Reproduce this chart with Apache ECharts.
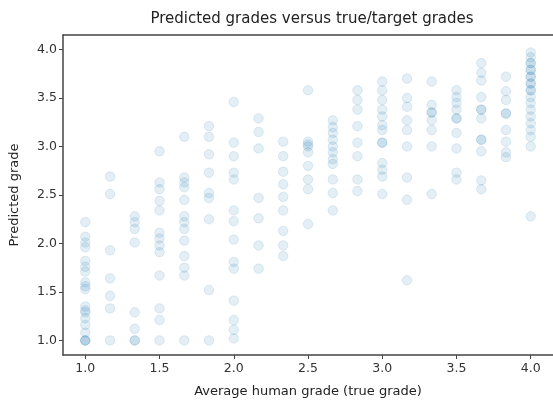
<!DOCTYPE html>
<html>
<head>
<meta charset="utf-8">
<script src="https://cdn.jsdelivr.net/npm/echarts@6/dist/echarts.min.js"></script>
<style>html,body{margin:0;padding:0;background:#fff;}#c{width:553px;height:403px;}</style>
</head>
<body>
<div id="c"></div>
<script>
var titleText = 'Predicted grades versus true/target grades';
var xLabel = 'Average human grade (true grade)';
var yLabel = 'Predicted grade';
var tickValues = [1.0, 1.5, 2.0, 2.5, 3.0, 3.5, 4.0];

var trueGrades = [1.0, 1.167, 1.333, 1.5, 1.667, 1.833, 2.0, 2.167, 2.333, 2.5, 2.667, 2.833, 3.0, 3.167, 3.333, 3.5, 3.667, 3.833, 4.0];

var pred00 = [2.22, 2.07, 2.01, 1.96, 1.82, 1.76, 1.71, 1.6, 1.56, 1.53, 1.35, 1.31, 1.29, 1.23, 1.16, 1.08, 1.0, 1.0, 1.0];
var pred01 = [2.69, 2.51, 1.93, 1.64, 1.46, 1.33, 1.0];
var pred02 = [2.28, 2.22, 2.15, 2.01, 1.29, 1.12, 1.0, 1.0];
var pred03 = [2.95, 2.63, 2.56, 2.44, 2.34, 2.11, 2.05, 1.98, 1.91, 1.67, 1.33, 1.21, 1.0];
var pred04 = [3.10, 2.68, 2.63, 2.58, 2.45, 2.28, 2.22, 2.15, 2.03, 1.87, 1.75, 1.67, 1.0];
var pred05 = [3.21, 3.10, 2.92, 2.73, 2.52, 2.47, 2.25, 1.52, 1.0];
var pred06 = [3.46, 3.04, 2.90, 2.73, 2.66, 2.34, 2.23, 2.04, 1.81, 1.74, 1.41, 1.21, 1.11, 1.02];
var pred07 = [3.29, 3.15, 2.98, 2.47, 2.26, 1.98, 1.74];
var pred08 = [3.05, 2.90, 2.74, 2.61, 2.48, 2.34, 2.13, 1.98, 1.87];
var pred09 = [3.58, 3.05, 3.02, 3.0, 2.94, 2.80, 2.66, 2.56, 2.20];
var pred10 = [3.27, 3.20, 3.14, 3.07, 3.0, 2.94, 2.87, 2.82, 2.66, 2.52, 2.34];
var pred11 = [3.58, 3.48, 3.38, 3.21, 3.04, 2.90, 2.66, 2.54];
var pred12 = [3.67, 3.58, 3.48, 3.38, 3.31, 3.22, 3.17, 3.04, 3.04, 2.83, 2.76, 2.69, 2.51];
var pred13 = [3.70, 3.50, 3.41, 3.27, 3.17, 3.0, 2.68, 2.45, 1.62];
var pred14 = [3.67, 3.43, 3.35, 3.35, 3.27, 3.17, 3.0, 2.51];
var pred15 = [3.58, 3.51, 3.45, 3.38, 3.29, 3.29, 3.14, 2.98, 2.73, 2.66];
var pred16 = [3.86, 3.76, 3.68, 3.51, 3.38, 3.38, 3.29, 3.07, 3.07, 2.95, 2.65, 2.56];
var pred17 = [3.72, 3.57, 3.48, 3.34, 3.34, 3.17, 3.05, 2.94, 2.89];
var pred18 = [3.97, 3.92, 3.86, 3.86, 3.79, 3.79, 3.72, 3.72, 3.65, 3.65, 3.58, 3.58, 3.51, 3.45, 3.38, 3.31, 3.24, 3.17, 3.10, 3.0, 2.28];

var predByColumn = [pred00, pred01, pred02, pred03, pred04, pred05, pred06, pred07, pred08, pred09, pred10, pred11, pred12, pred13, pred14, pred15, pred16, pred17, pred18];

var points = [];
predByColumn.forEach(function (arr, i) {
  arr.forEach(function (v) { points.push([trueGrades[i], v]); });
});

var FONT = 'DejaVu Sans';
var axisColor = '#444';
var labelStyle = { color: '#333', fontFamily: FONT, fontSize: 12.5 };

var chart = echarts.init(document.getElementById('c'), null, { renderer: 'canvas' });
chart.setOption({
  animation: false,
  backgroundColor: '#fff',
  title: {
    text: titleText, left: 307, top: 7, textAlign: 'center',
    textStyle: { fontFamily: FONT, fontSize: 15, fontWeight: 'normal', color: '#222' }
  },
  grid: { left: 62, right: 0, top: 35, bottom: 46, containLabel: false },
  xAxis: [{
    type: 'value', min: 0.85, max: 4.15,
    name: xLabel, nameLocation: 'middle', nameGap: 30,
    nameTextStyle: { fontFamily: FONT, fontSize: 13, color: '#222' },
    axisLine: { show: true, onZero: false, lineStyle: { color: axisColor, width: 1.5 } },
    axisTick: { show: true, length: 4, customValues: tickValues, lineStyle: { color: axisColor } },
    axisLabel: Object.assign({ customValues: tickValues, margin: 7, formatter: function (v) { return v.toFixed(1); } }, labelStyle),
    splitLine: { show: false }
  }, {
    type: 'value', min: 0.85, max: 4.15, position: 'top',
    axisLine: { show: true, onZero: false, lineStyle: { color: axisColor, width: 1.5 } },
    axisTick: { show: false }, axisLabel: { show: false }, splitLine: { show: false }
  }],
  yAxis: {
    type: 'value', min: 0.85, max: 4.15,
    name: yLabel, nameLocation: 'middle', nameGap: 42,
    nameTextStyle: { fontFamily: FONT, fontSize: 13, color: '#222' },
    axisLine: { show: true, onZero: false, lineStyle: { color: axisColor, width: 1.5 } },
    axisTick: { show: true, length: 4, customValues: tickValues, lineStyle: { color: axisColor } },
    axisLabel: Object.assign({ customValues: tickValues, margin: 6, formatter: function (v) { return v.toFixed(1); } }, labelStyle),
    splitLine: { show: false }
  },
  series: [{
    type: 'scatter', xAxisIndex: 0,
    data: points, symbol: 'circle', symbolSize: 9.5,
    itemStyle: { color: '#2a7ab0', borderColor: '#2a7ab0', borderWidth: 1, opacity: 0.13 },
    emphasis: { disabled: true }
  }]
});
</script>
</body>
</html>
